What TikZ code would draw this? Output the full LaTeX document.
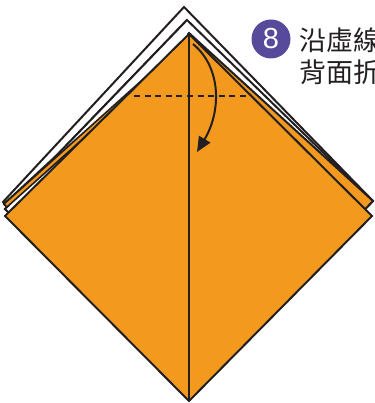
\documentclass[tikz,border=0pt]{standalone}
\usepackage{fontspec}
\newfontfamily\cjk{Noto Sans CJK TC}
\newfontfamily\badgefont{Liberation Sans}
\usetikzlibrary{arrows.meta}
\definecolor{paper}{RGB}{243,154,30}
\definecolor{badgepurple}{RGB}{88,74,155}
\definecolor{ink}{RGB}{35,31,32}
\begin{document}
\begin{tikzpicture}[x=1pt,y=-1pt,line join=miter,
  edge/.style={draw=ink,line width=2pt},
  thinedge/.style={draw=ink,line width=1.6pt},
  crease/.style={draw=ink,line width=2pt},
  valley/.style={draw=ink,line width=2pt,dash pattern=on 6pt off 4.6pt},
  foldarrow/.style={draw=ink,line width=2pt,-{Triangle[length=15pt,width=13pt]}},
  label/.style={font=\cjk\fontsize{27}{27}\selectfont,anchor=west,inner sep=0pt,text=ink}]
\useasboundingbox (0,0) rectangle (374,403);
\begin{scope}
\clip (0,0) rectangle (374,403);
% back layers (white side of the paper)
\filldraw[fill=white,edge] (184,7) -- (3,202) -- (189,388) -- (372,200) -- cycle;
\filldraw[fill=white,edge] (187,20) -- (5,209) -- (189,390) -- (373,201) -- cycle;
% coloured layer just behind the front face
\filldraw[fill=paper,edge] (189,33) -- (4,204) -- (189,392) -- (373,201) -- cycle;
% left white flap lying over the coloured layer
\fill[white] (187,20) -- (5,209) -- (189,393) -- cycle;
\draw[edge] (187,20) -- (5,209) -- (20,224);
% coloured edge strip showing along the left side
\filldraw[fill=paper,thinedge] (150,73) -- (4,204) -- (7,207) -- (153,76) -- cycle;
% front face
\filldraw[fill=paper,edge] (189,34) coordinate (apex) -- (5,216) -- (189,401) coordinate (tip) -- (372,216) -- cycle;
% centre crease
\draw[crease] (apex) -- (tip);
% valley fold line
\coordinate (vl) at (134,96);
\coordinate (vr) at (250,96);
\draw[valley] (vl) -- (vr);
% fold arrow
\coordinate (as) at (193,44);
\coordinate (ae) at (197,152);
\draw[foldarrow] (as) .. controls (222,68) and (221,112) .. (ae);
% step badge
\node[circle,fill=badgepurple,minimum size=39pt,inner sep=0pt] (badge) at (271,39) {};
\node[text=white,font=\badgefont\fontsize{29}{29}\selectfont,inner sep=0pt] (num) at (badge.center) {8};
% instruction text
\node[label] (line1) at (299,40) {沿虛線};
\node[label] (line2) at (299,72) {背面折};
\end{scope}
\end{tikzpicture}
\end{document}
